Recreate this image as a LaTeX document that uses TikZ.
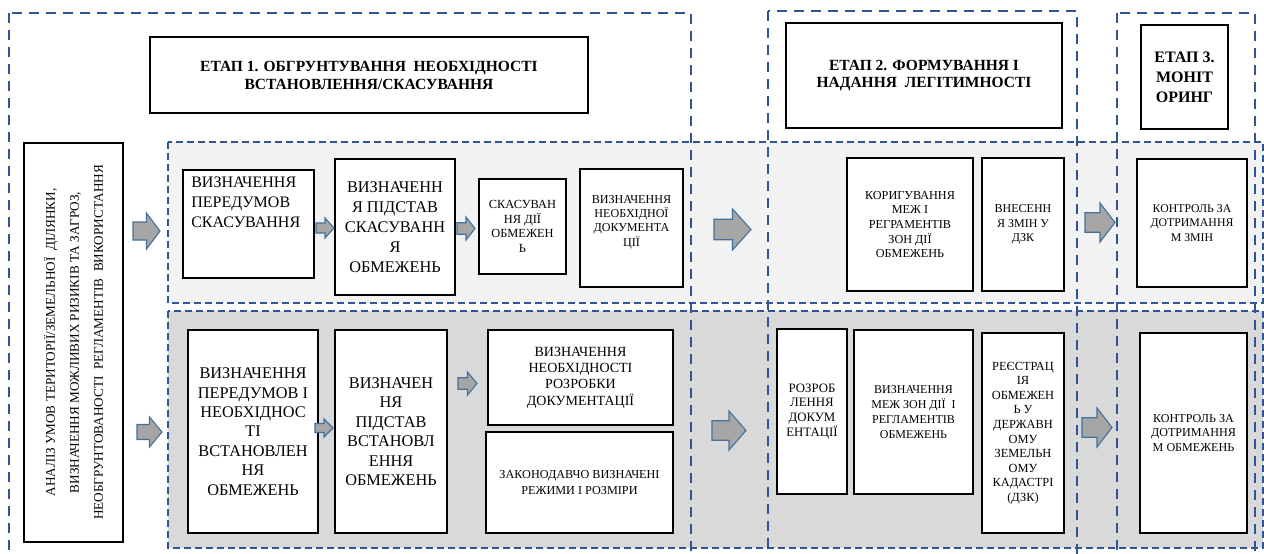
\documentclass[tikz,border=0pt]{standalone}
\usepackage{fontspec}
\setmainfont{Liberation Serif}
\definecolor{dashblue}{HTML}{2F5597}
\definecolor{arrowedge}{HTML}{41719C}
\definecolor{arrowfill}{HTML}{A6A6A6}
\definecolor{rowlight}{HTML}{F2F2F2}
\definecolor{rowdark}{HTML}{D9D9D9}
\newcommand{\fs}[2]{\fontsize{#1}{#2}\selectfont}
\tikzset{
  box/.style={draw=black, line width=1.8pt, fill=white, inner sep=2pt, align=center},
  stageframe/.style={draw=dashblue, line width=2.4pt, dash pattern=on 10pt off 7pt},
  rowframe/.style={draw=dashblue, line width=2.4pt, dash pattern=on 7pt off 4pt},
  arrowshape/.style={draw=arrowedge, line width=1.1pt, fill=arrowfill, line join=miter},
  pics/barrow/.style 2 args={code={
    \draw[arrowshape] (-#1/2,-#2/4) -- (0,-#2/4) -- (0,-#2/2) -- (#1/2,0)
      -- (0,#2/2) -- (0,#2/4) -- (-#1/2,#2/4) -- cycle;
  }}
}
\begin{document}
\begin{tikzpicture}[x=1pt,y=-1pt]
\useasboundingbox (0,0) rectangle (1264,554);

% row backgrounds
\fill[rowlight] (168,142) rectangle (1263,303);
\fill[rowdark] (168,311) rectangle (1263,548);

% stage frames
\draw[stageframe] (9,13) rectangle (691,570);
\draw[stageframe] (768,11) rectangle (1077,570);
\draw[stageframe] (1117,13) rectangle (1255,570);

% row frames
\draw[rowframe] (168,142) rectangle (1263,303);
\draw[rowframe] (168,311) rectangle (1263,548);

% stage titles
\node[box, font=\bfseries\fs{15.5}{18}, minimum width=438pt, minimum height=76pt] (t1) at (369,75)
  {ЕТАП 1. ОБГРУНТУВАННЯ~ НЕОБХІДНОСТІ\\ВСТАНОВЛЕННЯ/СКАСУВАННЯ};
\node[box, font=\bfseries\fs{15.5}{17}, minimum width=276pt, minimum height=105pt] (t2) at (924,75.5)
  {ЕТАП 2. ФОРМУВАННЯ І\\НАДАННЯ~ ЛЕГІТИМНОСТІ};
\node[box, font=\bfseries\fs{16}{20}, minimum width=87pt, minimum height=104pt] (t3) at (1184.5,77)
  {ЕТАП 3.\\МОНІТ\\ОРИНГ};

% analysis box (vertical text)
\node[box, rotate=90, font=\fs{13.2}{24}, minimum width=399pt, minimum height=99pt] (an) at (73.5,342.5)
  {АНАЛІЗ УМОВ ТЕРИТОРІЇ/ЗЕМЕЛЬНОЇ~ ДІЛЯНКИ,\\ВИЗНАЧЕННЯ МОЖЛИВИХ РИЗИКІВ ТА ЗАГРОЗ,\\НЕОБГРУНТОВАНОСТІ~ РЕГЛАМЕНТІВ~ ВИКОРИСТАННЯ};

% row 1: cancellation
\node[box, minimum width=131pt, minimum height=108pt,
  label={[anchor=north west, align=left, inner xsep=9pt, inner ysep=8pt, font=\fs{16}{20}]north west:{ВИЗНАЧЕННЯ\\ПЕРЕДУМОВ\\СКАСУВАННЯ}}] (b1) at (248.5,224) {};
\node[box, font=\fs{16.3}{20}, minimum width=120pt, minimum height=136pt] (b2) at (395,227)
  {ВИЗНАЧЕНН\\Я ПІДСТАВ\\СКАСУВАНН\\Я\\ОБМЕЖЕНЬ};
\node[box, font=\fs{12.4}{14.5}, minimum width=87pt, minimum height=95pt] (b3) at (522.5,226.5)
  {СКАСУВАН\\НЯ ДІЇ\\ОБМЕЖЕН\\Ь};
\node[box, minimum width=103pt, minimum height=118pt,
  label={[align=center, yshift=6pt, font=\fs{12.1}{14.3}]center:{ВИЗНАЧЕННЯ\\НЕОБХІДНОЇ\\ДОКУМЕНТА\\ЦІЇ}}] (b4) at (631.5,228) {};
\node[box, font=\fs{12.2}{14.6}, minimum width=126pt, minimum height=133pt] (b5) at (910,224.5)
  {КОРИГУВАННЯ\\МЕЖ І\\РЕГРАМЕНТІВ\\ЗОН ДІЇ\\ОБМЕЖЕНЬ};
\node[box, font=\fs{12}{14.5}, minimum width=82pt, minimum height=133pt] (b6) at (1023,224.5)
  {ВНЕСЕНН\\Я ЗМІН У\\ДЗК};
\node[box, font=\fs{11.8}{14.5}, minimum width=110pt, minimum height=128pt] (b7) at (1192,223)
  {КОНТРОЛЬ ЗА\\ДОТРИМАННЯ\\М ЗМІН};

% row 2: establishment
\node[box, font=\fs{16.3}{19.4}, minimum width=130pt, minimum height=203pt] (c1) at (253,431.5)
  {ВИЗНАЧЕННЯ\\ПЕРЕДУМОВ І\\НЕОБХІДНОС\\ТІ\\ВСТАНОВЛЕН\\НЯ\\ОБМЕЖЕНЬ};
\node[box, font=\fs{16.3}{19.5}, minimum width=112pt, minimum height=203pt] (c2) at (391,431.5)
  {ВИЗНАЧЕН\\НЯ\\ПІДСТАВ\\ВСТАНОВЛ\\ЕННЯ\\ОБМЕЖЕНЬ};
\node[box, font=\fs{14}{16.3}, minimum width=185pt, minimum height=95pt] (c3) at (580.5,377.5)
  {ВИЗНАЧЕННЯ\\НЕОБХІДНОСТІ\\РОЗРОБКИ\\ДОКУМЕНТАЦІЇ};
\node[box, font=\fs{12.2}{15.3}, minimum width=187pt, minimum height=101pt] (c4) at (579.5,482.5)
  {ЗАКОНОДАВЧО ВИЗНАЧЕНІ\\РЕЖИМИ І РОЗМІРИ};
\node[box, font=\fs{12.8}{14.8}, minimum width=70pt, minimum height=165pt] (c5) at (812,411.5)
  {РОЗРОБ\\ЛЕННЯ\\ДОКУМ\\ЕНТАЦІЇ};
\node[box, font=\fs{12}{15}, minimum width=119pt, minimum height=164pt] (c6) at (913.5,412)
  {ВИЗНАЧЕННЯ\\МЕЖ ЗОН ДІЇ~ І\\РЕГЛАМЕНТІВ\\ОБМЕЖЕНЬ};
\node[box, font=\fs{12.4}{14.6}, minimum width=82pt, minimum height=200pt] (c7) at (1023,433)
  {РЕЄСТРАЦ\\ІЯ\\ОБМЕЖЕН\\Ь У\\ДЕРЖАВН\\ОМУ\\ЗЕМЕЛЬН\\ОМУ\\КАДАСТРІ\\(ДЗК)};
\node[box, font=\fs{12.1}{14.5}, minimum width=107pt, minimum height=200pt] (c8) at (1193.5,433)
  {КОНТРОЛЬ ЗА\\ДОТРИМАННЯ\\М ОБМЕЖЕНЬ};

% block arrows
\pic (a0) at (146.5,231) {barrow={27}{36}};
\pic (a9) at (149.5,432) {barrow={25}{30}};
\pic (a1) at (325,228) {barrow={18}{20}};
\pic (a2) at (466,228.5) {barrow={18}{23}};
\pic (a3) at (732.5,229.5) {barrow={37}{41}};
\pic (a4) at (1100,222.5) {barrow={30}{39}};
\pic (a5) at (324,428) {barrow={18}{18}};
\pic (a6) at (467.5,383.5) {barrow={19}{23}};
\pic (a7) at (729,430.5) {barrow={34}{39}};
\pic (a8) at (1097,427.5) {barrow={30}{39}};
\end{tikzpicture}
\end{document}
